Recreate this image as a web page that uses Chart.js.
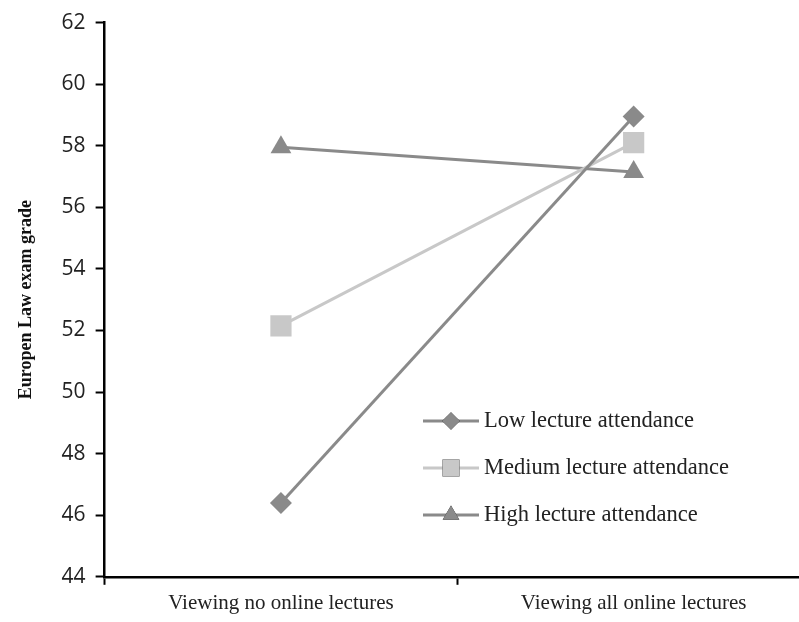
<!DOCTYPE html>
<html lang="en">
<head>
    <meta charset="UTF-8">
    <title>Europen Law exam grade</title>
    <style>
        body { margin: 0; background: #fff; overflow: hidden; }
        #wrap { width: 825px; height: 622px; }
    </style>
</head>
<body>
    <div id="wrap"><canvas id="gradeChart"></canvas></div>

    <script src="https://cdn.jsdelivr.net/npm/chart.js"></script>
    <script>
        // chart data
        const categories = ['Viewing no online lectures', 'Viewing all online lectures'];
        const lowAttendance = [46.4, 58.95];
        const mediumAttendance = [52.15, 58.1];
        const highAttendance = [57.95, 57.15];
        const yTicks = [44, 46, 48, 50, 52, 54, 56, 58, 60, 62];

        const dark = '#8a8a8a';
        const light = '#c8c8c8';

        // legend drawn inside the plot area, bottom right
        const insideLegend = {
            id: 'insideLegend',
            afterDraw(chart) {
                const ctx = chart.ctx;
                const x0 = 423, y0 = 421, rowGap = 47;
                chart.data.datasets.forEach((ds, i) => {
                    const y = y0 + i * rowGap;
                    ctx.save();
                    ctx.strokeStyle = ds.borderColor;
                    ctx.lineWidth = 3;
                    ctx.beginPath();
                    ctx.moveTo(x0, y);
                    ctx.lineTo(x0 + 56, y);
                    ctx.stroke();
                    Chart.helpers.drawPoint(ctx, {
                        pointStyle: ds.pointStyle,
                        radius: ds.pointRadius * 0.8,
                        borderWidth: 0
                    }, x0 + 28, y);
                    ctx.fillStyle = ds.pointBackgroundColor;
                    ctx.fill();
                    ctx.fillStyle = '#222';
                    ctx.font = '22.5px "Liberation Serif", serif';
                    ctx.textBaseline = 'middle';
                    ctx.fillText(ds.label, x0 + 61, y);
                    ctx.restore();
                });
            }
        };

        const ctx = document.getElementById('gradeChart').getContext('2d');
        new Chart(ctx, {
            type: 'line',
            data: {
                labels: categories,
                datasets: [
                    {
                        label: 'Low lecture attendance',
                        data: lowAttendance,
                        borderColor: dark,
                        pointBackgroundColor: dark,
                        pointBorderColor: dark,
                        pointStyle: 'rectRot',
                        pointRadius: 11,
                        pointBorderWidth: 0,
                        borderWidth: 3
                    },
                    {
                        label: 'Medium lecture attendance',
                        data: mediumAttendance,
                        borderColor: light,
                        pointBackgroundColor: light,
                        pointBorderColor: light,
                        pointStyle: 'rect',
                        pointRadius: 15,
                        pointBorderWidth: 0,
                        borderWidth: 3
                    },
                    {
                        label: 'High lecture attendance',
                        data: highAttendance,
                        borderColor: dark,
                        pointBackgroundColor: dark,
                        pointBorderColor: dark,
                        pointStyle: 'triangle',
                        pointRadius: 12,
                        pointBorderWidth: 0,
                        borderWidth: 3
                    }
                ]
            },
            options: {
                responsive: true,
                maintainAspectRatio: false,
                animation: false,
                layout: { padding: { top: 21, left: 16, right: 0, bottom: 0 } },
                plugins: {
                    legend: { display: false },
                    tooltip: { enabled: false }
                },
                scales: {
                    x: {
                        offset: true,
                        border: { color: '#000', width: 2.5 },
                        grid: { offset: true, drawOnChartArea: false, tickLength: 8, tickColor: '#000', tickWidth: 2 },
                        ticks: {
                            color: '#222',
                            padding: 6,
                            maxRotation: 0,
                            font: { family: '"Liberation Serif", serif', size: 21 }
                        }
                    },
                    y: {
                        min: 44,
                        max: 62,
                        afterBuildTicks: (axis) => { axis.ticks = yTicks.map(v => ({ value: v })); },
                        border: { color: '#000', width: 2.5 },
                        grid: { drawOnChartArea: false, tickLength: 9, tickColor: '#000', tickWidth: 2 },
                        ticks: {
                            color: '#222',
                            padding: 10,
                            font: { family: '"Open Sans", sans-serif', size: 21 }
                        },
                        title: {
                            display: true,
                            text: 'Europen Law exam grade',
                            color: '#111',
                            padding: { top: 0, bottom: 14 },
                            font: { family: '"Liberation Serif", serif', size: 18, weight: 'bold' }
                        }
                    }
                }
            },
            plugins: [insideLegend]
        });
    </script>
</body>
</html>
